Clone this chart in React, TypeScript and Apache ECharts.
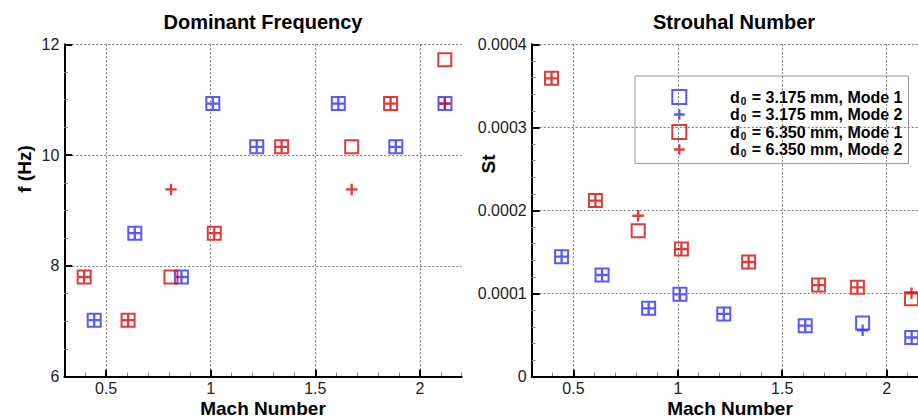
import React, { useEffect, useRef } from 'react';
import * as echarts from 'echarts';

// ---------- data ----------
const seriesNames = [
  'd0 = 3.175 mm, Mode 1',
  'd0 = 3.175 mm, Mode 2',
  'd0 = 6.350 mm, Mode 1',
  'd0 = 6.350 mm, Mode 2',
];

const machSmall = [0.443, 0.637, 0.86, 1.01, 1.22, 1.61, 1.885, 2.12];
const machLarge = [0.395, 0.605, 0.81, 1.017, 1.339, 1.674, 1.86, 2.119];

const freqSmallMode1 = [7.02, 8.59, 7.8, 10.93, 10.15, 10.93, 10.15, 10.93];
const freqSmallMode2 = [7.02, 8.59, 7.8, 10.93, 10.15, 10.93, 10.15, 10.93];
const freqLargeMode1 = [7.8, 7.02, 7.8, 8.59, 10.15, 10.15, 10.93, 11.72];
const freqLargeMode2 = [7.8, 7.02, 9.38, 8.59, 10.15, 9.38, 10.93, 10.93];

const stSmallMode1 = [0.0001444, 0.0001224, 0.0000823, 0.0000991, 0.0000755, 0.0000614, 0.0000645, 0.0000472];
const stSmallMode2 = [0.0001444, 0.0001224, 0.0000823, 0.0000991, 0.0000755, 0.0000614, 0.0000558, 0.0000472];
const stLargeMode1 = [0.000359, 0.000212, 0.0001757, 0.0001537, 0.000138, 0.0001103, 0.0001076, 0.0000938];
const stLargeMode2 = [0.000359, 0.000212, 0.0001937, 0.0001537, 0.000138, 0.0001103, 0.0001076, 0.0001004];

const xMajorTicks = [0.5, 1, 1.5, 2];

// ---------- style ----------
const BLUE = '#3030ff';
const RED = '#d80a0a';
const FONT = '"Liberation Sans", Arial, Helvetica, sans-serif';

// plus symbol inside a 13x13 frame (tiny degenerate corners keep the frame)
const PLUS_PATH =
  'path://M0,0L0.01,0L0,0.01ZM13,13L12.99,13L13,12.99ZM5.35,0.75H7.65V5.35H12.25V7.65H7.65V12.25H5.35V7.65H0.75V5.35H5.35Z';
const PLUS_LEGEND_PATH =
  'path://M0,0L0.01,0L0,0.01ZM13,13L12.99,13L13,12.99ZM5.45,1.55H7.55V5.45H11.45V7.55H7.55V11.45H5.45V7.55H1.55V5.45H5.45Z';

const zip = (xs: number[], ys: number[]) => xs.map((x, i) => [x, ys[i]]);

function makeSeries(gridIdx: number, data: number[][][]) {
  const colors = [BLUE, BLUE, RED, RED];
  return data.map((d, i) => {
    const isSquare = i % 2 === 0;
    return {
      type: 'scatter',
      name: seriesNames[i],
      xAxisIndex: gridIdx * 2,
      yAxisIndex: gridIdx,
      data: d,
      symbol: isSquare ? 'rect' : PLUS_PATH,
      symbolSize: 13,
      itemStyle: isSquare
        ? { color: 'transparent', borderColor: colors[i], borderWidth: 2 }
        : { color: colors[i], borderWidth: 0 },
      emphasis: { disabled: true },
      z: 3 + i,
    };
  });
}

function xAxes(gridIndex: number) {
  return [
    {
      type: 'value',
      gridIndex,
      position: 'bottom',
      min: 0.3,
      max: 2.2,
      splitNumber: 4,
      minInterval: 0.5,
      maxInterval: 0.5,
      axisLine: { show: true, onZero: false, lineStyle: { color: '#000', width: 2 } },
      axisTick: { show: true, inside: true, length: 7, customValues: xMajorTicks, lineStyle: { color: '#000', width: 2 } },
      axisLabel: { show: true, customValues: xMajorTicks, margin: 4, fontFamily: FONT, fontSize: 16, color: '#222' },
      splitLine: { show: true, lineStyle: { color: '#777', width: 1, type: [2, 2] } },
      minorTick: { show: false },
      z: 6,
    },
    {
      type: 'value',
      gridIndex,
      position: 'bottom',
      min: 0.3,
      max: 2.2,
      interval: 0.1,
      axisLine: { show: true, onZero: false, lineStyle: { color: 'rgba(0,0,0,0)', width: 0 } },
      axisTick: { show: true, inside: true, interval: 0, length: 4, lineStyle: { color: '#888', width: 1 } },
      axisLabel: { show: false, interval: 0 },
      splitLine: { show: false },
      z: 5,
    },
  ];
}

function yAxis(gridIndex: number, min: number, max: number, interval: number, minorSplit: number) {
  return {
    type: 'value',
    gridIndex,
    min,
    max,
    interval,
    axisLine: { show: true, onZero: false, lineStyle: { color: '#000', width: 2 } },
    axisTick: { show: true, inside: true, length: 8, lineStyle: { color: '#000', width: 2 } },
    minorTick: { show: true, splitNumber: minorSplit, length: 4, lineStyle: { color: '#888', width: 1 } },
    axisLabel: { margin: 5, fontFamily: FONT, fontSize: 16, color: '#222' },
    splitLine: { show: true, showMinLine: false, lineStyle: { color: '#777', width: 1, type: [2, 2] } },
    z: 6,
  };
}

export default function App() {
  const ref = useRef<HTMLDivElement>(null);

  useEffect(() => {
    if (!ref.current) return;
    const chart = echarts.init(ref.current, undefined, { renderer: 'svg' });

    const titleStyle = { fontFamily: FONT, fontSize: 20, fontWeight: 'bold', fill: '#000', align: 'center', verticalAlign: 'middle' };
    const axisNameStyle = { fontFamily: FONT, fontSize: 19, fontWeight: 'bold', fill: '#000', align: 'center', verticalAlign: 'middle' };

    const option: any = {
      animation: false,
      backgroundColor: '#fff',
      grid: [
        { left: 64.3, top: 44.3, width: 397.4, height: 332.4, containLabel: false, outerBoundsMode: 'none' },
        { left: 531.7, top: 44.3, width: 396.7, height: 332.4, containLabel: false, outerBoundsMode: 'none' },
      ],
      xAxis: [...xAxes(0), ...xAxes(1)],
      yAxis: [yAxis(0, 6, 12, 2, 4), yAxis(1, 0, 0.0004, 0.0001, 5)],
      legend: {
        orient: 'vertical',
        left: 635,
        top: 76,
        padding: [13, 6, 5, 36.3],
        itemWidth: 14,
        itemHeight: 14,
        itemGap: 0.5,
        backgroundColor: '#fff',
        borderColor: '#999',
        borderWidth: 1,
        borderRadius: 0,
        selectedMode: false,
        data: [
          { name: seriesNames[0] },
          { name: seriesNames[1], icon: PLUS_LEGEND_PATH },
          { name: seriesNames[2] },
          { name: seriesNames[3], icon: PLUS_LEGEND_PATH },
        ],
        formatter: (name: string) => '{g| }{a|d}{s|0}{a|' + name.slice(2) + '}',
        textStyle: {
          rich: {
            g: { width: 38.7, fontSize: 16, lineHeight: 18 },
            a: { fontFamily: FONT, fontSize: 16, fontWeight: 'bold', color: '#000', lineHeight: 18 },
            s: { fontFamily: FONT, fontSize: 10, fontWeight: 'bold', color: '#000', lineHeight: 10, verticalAlign: 'bottom', padding: [0, 1, 0, 1] },
          },
        },
      },
      graphic: [
        { type: 'text', x: 263, y: 22, style: { text: 'Dominant Frequency', ...titleStyle } },
        { type: 'text', x: 734, y: 22, style: { text: 'Strouhal Number', ...titleStyle } },
        { type: 'text', x: 24, y: 169, rotation: Math.PI / 2, style: { text: 'f (Hz)', ...axisNameStyle } },
        { type: 'text', x: 488, y: 164, rotation: Math.PI / 2, style: { text: 'St', ...axisNameStyle } },
        { type: 'text', x: 263, y: 408, style: { text: 'Mach Number', ...axisNameStyle } },
        { type: 'text', x: 730, y: 408, style: { text: 'Mach Number', ...axisNameStyle } },
      ],
      series: [
        ...makeSeries(0, [
          zip(machSmall, freqSmallMode1),
          zip(machSmall, freqSmallMode2),
          zip(machLarge, freqLargeMode1),
          zip(machLarge, freqLargeMode2),
        ]),
        ...makeSeries(1, [
          zip(machSmall, stSmallMode1),
          zip(machSmall, stSmallMode2),
          zip(machLarge, stLargeMode1),
          zip(machLarge, stLargeMode2),
        ]),
      ],
    };

    chart.setOption(option);
    return () => chart.dispose();
  }, []);

  return (
    <div
      ref={ref}
      style={{ position: 'absolute', left: 0, top: 0, width: 918, height: 419, overflow: 'hidden', background: '#fff' }}
    />
  );
}
